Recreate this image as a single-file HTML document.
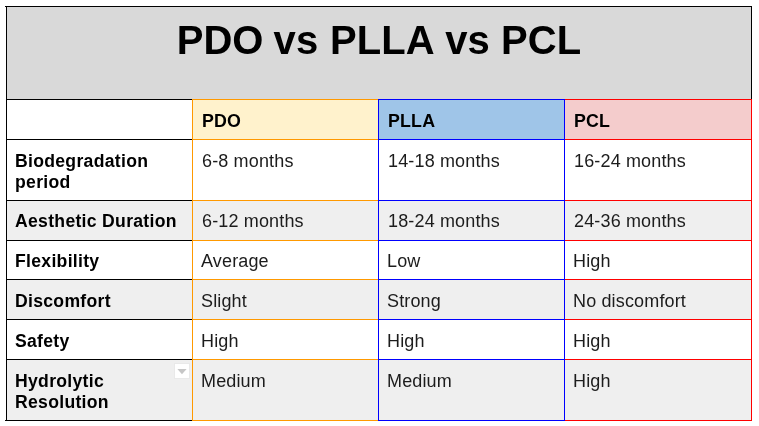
<!DOCTYPE html>
<html><head><meta charset="utf-8"><title>PDO vs PLLA vs PCL</title>
<style>
html,body{margin:0;padding:0;background:#fff;}
body{width:759px;height:426px;position:relative;overflow:hidden;font-family:"Liberation Sans",sans-serif;color:#000;}
.c{position:absolute;box-sizing:border-box;}
.t{position:absolute;white-space:nowrap;font-size:18px;line-height:21px;letter-spacing:0.15px;color:#1c1c1c;will-change:transform;}
.b{font-weight:bold;font-size:17.6px;letter-spacing:0.3px;color:#000;}
.l{position:absolute;}
.t.h{font-size:17.8px;letter-spacing:0.2px;}
#title{position:absolute;left:7px;top:7px;width:744px;height:92px;background:#d9d9d9;}
#title span{position:absolute;left:0;width:744px;text-align:center;top:10.3px;font-size:40px;line-height:46px;font-weight:bold;white-space:nowrap;letter-spacing:0.09px;will-change:transform;transform:scaleY(1.035);transform-origin:0 36.5px;}
#title i{font-style:normal;position:relative;}
</style></head><body>

<div id="title"><span>PDO <i style="left:-1.2px">vs</i> <i style="left:-0.8px">PLLA</i> vs PCL</span></div>
<div class="c" style="left:7px;top:100px;width:185px;height:39px;background:#ffffff"></div>
<div class="c" style="left:193px;top:100px;width:185px;height:39px;background:#fff2cc"></div>
<div class="c" style="left:379px;top:100px;width:185px;height:39px;background:#9fc5e8"></div>
<div class="c" style="left:565px;top:100px;width:186px;height:39px;background:#f4cccc"></div>
<div class="c" style="left:7px;top:201px;width:744px;height:39px;background:#efefef"></div>
<div class="c" style="left:7px;top:280px;width:744px;height:39px;background:#efefef"></div>
<div class="c" style="left:7px;top:360px;width:744px;height:60px;background:#efefef"></div>
<div class="l" style="left:5px;top:6px;width:747px;height:1px;background:#000"></div>
<div class="l" style="left:6px;top:99px;width:187px;height:1px;background:#000000"></div>
<div class="l" style="left:192px;top:99px;width:187px;height:1px;background:#ff9900"></div>
<div class="l" style="left:378px;top:99px;width:187px;height:1px;background:#0000ff"></div>
<div class="l" style="left:564px;top:99px;width:188px;height:1px;background:#ff0000"></div>
<div class="l" style="left:6px;top:139px;width:187px;height:1px;background:#000000"></div>
<div class="l" style="left:192px;top:139px;width:187px;height:1px;background:#ff9900"></div>
<div class="l" style="left:378px;top:139px;width:187px;height:1px;background:#0000ff"></div>
<div class="l" style="left:564px;top:139px;width:188px;height:1px;background:#ff0000"></div>
<div class="l" style="left:6px;top:200px;width:187px;height:1px;background:#000000"></div>
<div class="l" style="left:192px;top:200px;width:187px;height:1px;background:#ff9900"></div>
<div class="l" style="left:378px;top:200px;width:187px;height:1px;background:#0000ff"></div>
<div class="l" style="left:564px;top:200px;width:188px;height:1px;background:#ff0000"></div>
<div class="l" style="left:6px;top:240px;width:187px;height:1px;background:#000000"></div>
<div class="l" style="left:192px;top:240px;width:187px;height:1px;background:#ff9900"></div>
<div class="l" style="left:378px;top:240px;width:187px;height:1px;background:#0000ff"></div>
<div class="l" style="left:564px;top:240px;width:188px;height:1px;background:#ff0000"></div>
<div class="l" style="left:6px;top:279px;width:187px;height:1px;background:#000000"></div>
<div class="l" style="left:192px;top:279px;width:187px;height:1px;background:#ff9900"></div>
<div class="l" style="left:378px;top:279px;width:187px;height:1px;background:#0000ff"></div>
<div class="l" style="left:564px;top:279px;width:188px;height:1px;background:#ff0000"></div>
<div class="l" style="left:6px;top:319px;width:187px;height:1px;background:#000000"></div>
<div class="l" style="left:192px;top:319px;width:187px;height:1px;background:#ff9900"></div>
<div class="l" style="left:378px;top:319px;width:187px;height:1px;background:#0000ff"></div>
<div class="l" style="left:564px;top:319px;width:188px;height:1px;background:#ff0000"></div>
<div class="l" style="left:6px;top:359px;width:187px;height:1px;background:#000000"></div>
<div class="l" style="left:192px;top:359px;width:187px;height:1px;background:#ff9900"></div>
<div class="l" style="left:378px;top:359px;width:187px;height:1px;background:#0000ff"></div>
<div class="l" style="left:564px;top:359px;width:188px;height:1px;background:#ff0000"></div>
<div class="l" style="left:6px;top:420px;width:187px;height:1px;background:#000000"></div>
<div class="l" style="left:192px;top:420px;width:187px;height:1px;background:#ff9900"></div>
<div class="l" style="left:378px;top:420px;width:187px;height:1px;background:#0000ff"></div>
<div class="l" style="left:564px;top:420px;width:188px;height:1px;background:#ff0000"></div>
<div class="l" style="left:5px;top:420px;width:2px;height:1px;background:#000"></div>
<div class="l" style="left:6px;top:6px;width:1px;height:415px;background:#000"></div>
<div class="l" style="left:751px;top:6px;width:1px;height:93px;background:#000"></div>
<div class="l" style="left:751px;top:99px;width:1px;height:322px;background:#ff0000"></div>
<div class="l" style="left:192px;top:99px;width:1px;height:322px;background:#ff9900"></div>
<div class="l" style="left:378px;top:99px;width:1px;height:322px;background:#0000ff"></div>
<div class="l" style="left:564px;top:99px;width:1px;height:322px;background:#0000ff"></div>
<div class="t b h" style="left:201.7px;top:110.8px;">PDO</div>
<div class="t b h" style="left:387.7px;top:110.8px;">PLLA</div>
<div class="t b h" style="left:573.7px;top:110.8px;">PCL</div>
<div class="t b" style="left:15px;top:151px;">Biodegradation<br>period</div>
<div class="t" style="left:201.5px;top:151px;">6-8 months</div>
<div class="t" style="left:388.0px;top:151px;">14-18 months</div>
<div class="t" style="left:574.0px;top:151px;">16-24 months</div>
<div class="t b" style="left:15px;top:211px;">Aesthetic Duration</div>
<div class="t" style="left:201.5px;top:211px;">6-12 months</div>
<div class="t" style="left:388.0px;top:211px;">18-24 months</div>
<div class="t" style="left:573.5px;top:211px;">24-36 months</div>
<div class="t b" style="left:15px;top:251px;">Flexibility</div>
<div class="t" style="left:200.7px;top:251px;">Average</div>
<div class="t" style="left:386.6px;top:251px;">Low</div>
<div class="t" style="left:573.1px;top:251px;">High</div>
<div class="t b" style="left:15px;top:291px;">Discomfort</div>
<div class="t" style="left:200.7px;top:291px;">Slight</div>
<div class="t" style="left:386.6px;top:291px;">Strong</div>
<div class="t" style="left:573.1px;top:291px;">No discomfort</div>
<div class="t b" style="left:15px;top:331px;">Safety</div>
<div class="t" style="left:200.7px;top:331px;">High</div>
<div class="t" style="left:386.6px;top:331px;">High</div>
<div class="t" style="left:573.1px;top:331px;">High</div>
<div class="t b" style="left:15px;top:371px;">Hydrolytic<br>Resolution</div>
<div class="t" style="left:200.7px;top:371px;">Medium</div>
<div class="t" style="left:386.6px;top:371px;">Medium</div>
<div class="t" style="left:573.1px;top:371px;">High</div>
<div class="c" style="left:174px;top:363px;width:16px;height:16px;background:#fff;border:1px solid #e9e9e9;"></div>
<svg class="l" style="left:170px;top:360px" width="22" height="22" viewBox="0 0 22 22"><polygon points="7.4,9 16.6,9 12,14.2" fill="#c6c6c6"/></svg>
</body></html>
